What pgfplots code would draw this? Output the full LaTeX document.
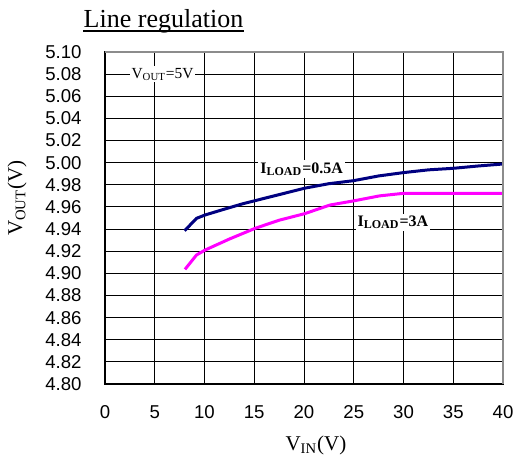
\documentclass[border=0pt]{standalone}
\usepackage{fontspec}
\setmainfont{Liberation Serif}
\newfontfamily\arial{Liberation Sans}
\usepackage{pgfplots}
\pgfplotsset{compat=1.18}
\definecolor{lnavy}{RGB}{0,0,128}
\definecolor{lmag}{RGB}{255,0,255}
\begin{document}
\begin{tikzpicture}
\begin{axis}[
    scale only axis,
    width=199pt, height=166pt,
    xmin=0, xmax=40, ymin=4.80, ymax=5.10,
    xtick={0,5,...,40},
    ytick={4.80,4.82,...,5.11},
    grid=major,
    major grid style={black, line width=0.5pt},
    axis line style={black, line width=0.6pt},
    major tick length=0pt,
    tick label style={font=\arial\fontsize{9.3}{10}\selectfont, inner sep=0pt},
    /pgf/number format/assume math mode=true,
    yticklabel style={/pgf/number format/fixed, /pgf/number format/fixed zerofill, /pgf/number format/precision=2},
    yticklabel style={anchor=east, xshift=-11.5pt},
    xticklabel style={anchor=north, yshift=-10.5pt},
    clip=false,
]
\addplot[lnavy, line width=1.5pt] coordinates {
    (8,4.9385) (9.2,4.9497) (10.05,4.9527) (12,4.958) (13.9,4.963)
    (17,4.970) (20.1,4.977) (22.5,4.981) (24.96,4.9837) (27.5,4.988)
    (29.98,4.991) (32.5,4.9935) (35,4.9949) (37.5,4.997) (40,4.9988)
};
\addplot[lmag, line width=1.5pt] coordinates {
    (8.04,4.9036) (9.2,4.9166) (10.05,4.921) (12.5,4.931) (15.1,4.9407)
    (17.5,4.948) (20.1,4.954) (22.6,4.9617) (25,4.9655) (27.6,4.970)
    (30,4.9723) (35,4.9723) (40,4.9723)
};
\draw[gray!90, line width=0.6pt] (rel axis cs:0,1) -- (rel axis cs:1,1) -- (rel axis cs:1,0);
\node[fill=white, inner sep=1pt, font=\fontsize{7.7}{9}\selectfont] at (axis cs:5.78,5.08) {V\textsubscript{OUT}=5V};
\node[fill=white, inner sep=1pt, font=\bfseries\fontsize{8}{9}\selectfont] at (axis cs:19.77,4.9943) {I\textsubscript{LOAD}=0.5A};
\node[fill=white, inner sep=1pt, font=\bfseries\fontsize{8}{9}\selectfont] at (axis cs:28.94,4.946) {I\textsubscript{LOAD}=3A};
\node[font=\fontsize{13}{15}\selectfont, inner sep=0pt, anchor=base] (ttl) at (rel axis cs:0.147,1.074) {Line regulation};
\draw[line width=0.9pt] ([yshift=-1.6pt]ttl.base west) -- ([yshift=-1.6pt]ttl.base east);
\node[font=\fontsize{10.5}{12}\selectfont] at (rel axis cs:0.53,-0.184) {V\textsubscript{IN}(V)};
\node[font=\fontsize{10.5}{12}\selectfont, rotate=90] at (rel axis cs:-0.221,0.56) {V\textsubscript{OUT}(V)};
\coordinate (bl) at (rel axis cs:-0.2638,-0.2259);
\coordinate (tr) at (rel axis cs:1.0276,1.1566);
\end{axis}
\pgfresetboundingbox
\path[use as bounding box] (bl) rectangle (tr);
\end{tikzpicture}
\end{document}
